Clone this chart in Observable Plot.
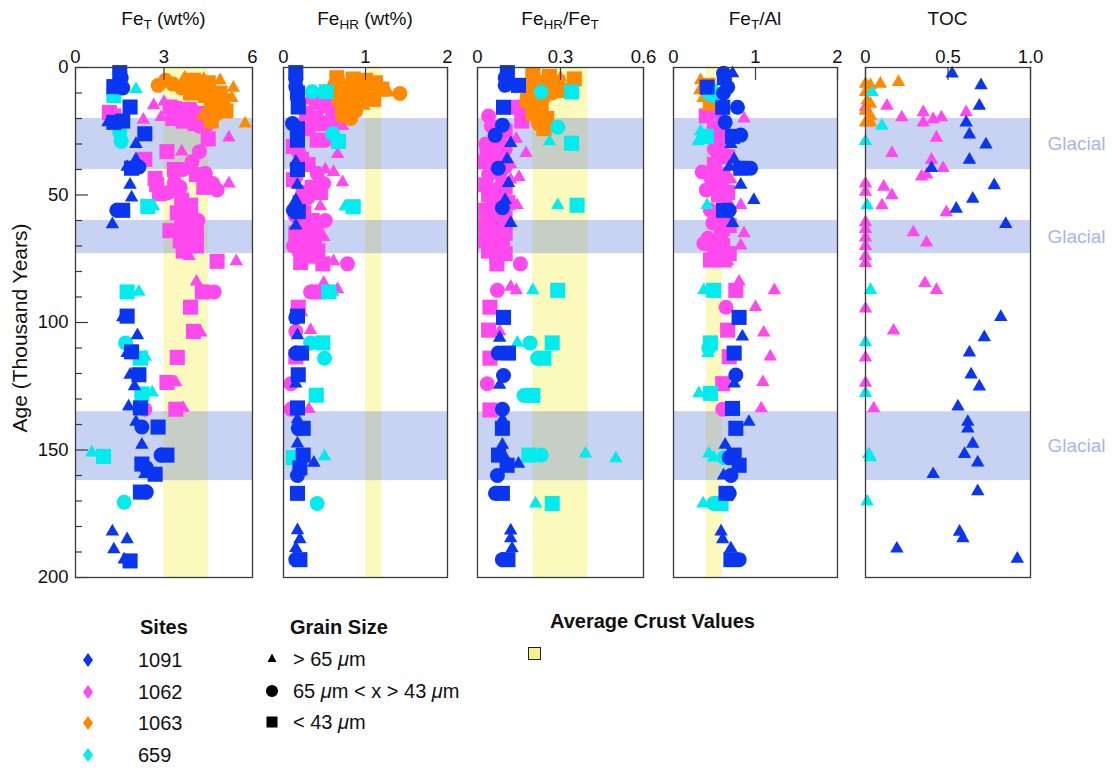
<!DOCTYPE html>
<html><head><meta charset="utf-8">
<script src="https://cdn.jsdelivr.net/npm/d3@7"></script>
<script src="https://cdn.jsdelivr.net/npm/@observablehq/plot@0.6"></script>
<style>
body{margin:0;background:#fff;font-family:"Liberation Sans",Arial,Helvetica,sans-serif;color:#111;}
#root{position:relative;width:1112px;height:770px;overflow:hidden;background:#fff;}
#root svg.plotsvg{position:absolute;top:0;}
.ptitle{position:absolute;top:9px;font-size:19px;line-height:20px;white-space:nowrap;transform:translateX(-50%);}
.ptitle sub{font-size:13.5px;vertical-align:-4px;line-height:0;}
.lg{position:absolute;font-size:20px;line-height:20px;white-space:nowrap;}
.lg.b{font-weight:bold;}
.lg i{font-style:italic;}
.sym{position:absolute;}
#ylab{position:absolute;left:20px;top:328px;font-size:21px;white-space:nowrap;transform:translate(-50%,-50%) rotate(-90deg);}
</style></head><body><div id="root"></div>
<script>
// ---------------- DATA ----------------
const sites = ["1091", "1062", "1063", "659"];
const siteColors = ["#0a36f2", "#ff48ee", "#ff8a00", "#00ecee"];
const grainLabels = ["> 65 <i>\u03bc</i>m", "65 <i>\u03bc</i>m < x > 43 <i>\u03bc</i>m", "< 43 <i>\u03bc</i>m"];
const panelTitles = ["Fe<sub>T</sub> (wt%)", "Fe<sub>HR</sub> (wt%)", "Fe<sub>HR</sub>/Fe<sub>T</sub>", "Fe<sub>T</sub>/Al", "TOC"];
const panelDomains = [[0, 6], [0, 2], [0, 0.6], [0, 2], [0, 1]];
const panelTicks = [[0, 3, 6], [0, 1, 2], [0, 0.3, 0.6], [0, 1, 2], [0, 0.5, 1]];
const panelTickLabels = [["0", "3", "6"], ["0", "1", "2"], ["0", "0.3", "0.6"], ["0", "1", "2"], ["0", "0.5", "1.0"]];
const crustRanges = [[3, 4.5], [1, 1.2], [0.2, 0.4], [0.4, 0.6], null];
const glacialBands = [[20, 40], [60, 73], [135, 162]];
const ageTicks = [0, 50, 100, 150, 200];
const ageMinorTicks = [0,10,20,30,40,50,60,70,80,90,100,110,120,130,140,150,160,170,180,190,200];

// rows: [age (ka), grain (t: >65, c: 65-43, s: <43 µm), value]
const feT_1091 = [[2,'s',1.5],[4,'c',1.55],[7.5,'s',1.3],[8,'c',1.6],[15.5,'s',1.85],[21.5,'t',1.1],[21.5,'s',1.3],[21,'s',1.6],[26,'s',2.35],[30,'t',2.05],[36,'t',2.05],[39,'c',2.15],[39,'t',1.75],[39.5,'s',1.9],[46,'t',1.85],[51,'t',1.9],[56,'c',1.4],[56,'s',1.6],[61.5,'t',1.25],[97.5,'s',1.75],[98,'t',1.6],[105,'t',2.1],[111.5,'s',1.9],[112,'t',1.75],[120.5,'t',1.85],[120.5,'s',2.15],[125,'t',2.0],[133,'t',1.8],[133.5,'s',2.2],[139,'t',2.05],[141,'c',2.25],[141,'s',2.8],[148,'t',2.25],[152,'c',2.9],[152,'s',3.1],[155.5,'s',2.25],[157,'c',2.4],[159.5,'t',2.35],[159.5,'s',2.7],[166.5,'c',2.4],[166.5,'s',2.2],[182,'t',1.25],[185,'t',1.75],[189,'t',1.3],[193,'t',1.65],[193.5,'s',1.85]];
const feT_1062 = [[14.8,'t',2.65],[13.5,'t',3.0],[17.6,'s',1.15],[19,'s',1.3],[15.5,'s',3.2],[16,'c',3.5],[16.5,'s',3.85],[17,'t',4.1],[18,'s',4.3],[19,'c',4.45],[20,'s',3.3],[21,'s',3.65],[19.5,'t',2.9],[22,'s',4.05],[22.5,'c',4.45],[23,'c',4.2],[20.5,'t',2.3],[28,'s',4.5],[27.5,'t',5.2],[33,'s',3.1],[33,'t',3.6],[33,'c',4.2],[36,'s',2.35],[37,'c',3.95],[40,'s',3.35],[40,'c',3.65],[41.5,'c',4.4],[42,'s',4.1],[43.5,'s',2.7],[45.5,'t',5.2],[45.5,'c',4.65],[46,'s',2.75],[47,'s',4.35],[48,'c',4.8],[49,'c',3.15],[49.5,'s',2.85],[47,'c',3.55],[45,'c',3.35],[52,'s',3.6],[54,'s',3.9],[56,'c',3.75],[57,'s',3.45],[59,'s',3.9],[60,'c',4.15],[61,'s',3.6],[63,'c',3.8],[64,'s',3.2],[65,'s',4.1],[66,'s',3.7],[67,'c',4.0],[68,'s',3.55],[69,'c',3.8],[70,'s',4.1],[71,'t',3.9],[72,'s',3.65],[74,'t',3.85],[76,'s',4.8],[76,'t',5.45],[84,'t',4.1],[88,'s',4.3],[88,'c',4.7],[94,'s',3.9],[103.5,'s',4.0],[104,'t',4.25],[113.7,'s',3.45],[123.5,'s',3.1],[123.5,'t',3.4],[134,'c',2.35],[134,'s',3.4],[133.5,'t',3.65]];
const feT_1063 = [[5,'c',3.05],[6.5,'c',3.3],[7,'c',2.8],[8,'c',3.6],[4,'t',3.7],[5,'s',4.0],[4.5,'t',4.35],[6,'s',4.5],[5,'t',4.9],[8,'s',4.2],[9,'t',4.7],[8,'t',5.35],[10,'s',4.9],[11,'s',4.4],[12,'c',4.7],[12,'t',5.3],[13,'s',5.0],[14,'s',4.6],[15,'c',4.9],[16,'t',4.5],[17,'s',5.1],[18,'c',4.8],[19,'t',4.3],[21,'s',4.6],[22,'t',5.75],[10,'s',3.9],[7,'s',3.8]];
const feT_659 = [[8.5,'t',2.05],[11,'s',1.3],[25.5,'c',1.5],[29,'c',1.55],[54.5,'s',2.45],[54.5,'t',2.65],[88,'s',1.75],[88,'t',2.15],[108,'c',1.7],[113.5,'t',2.37],[114,'s',2.2],[128,'s',2.25],[127.5,'t',2.6],[151,'t',0.55],[152.5,'s',0.95],[170.5,'c',1.65]];

const feHR_1091 = [[2,'s',0.15],[4.5,'c',0.15],[7.5,'c',0.15],[10,'s',0.17],[15.5,'s',0.18],[22,'c',0.11],[24,'s',0.17],[26,'c',0.17],[28.5,'s',0.17],[37,'t',0.15],[40,'s',0.17],[46,'t',0.17],[52,'t',0.15],[56,'c',0.12],[56.5,'s',0.18],[62,'t',0.15],[97.5,'s',0.17],[98,'c',0.15],[105,'t',0.17],[112,'c',0.15],[112,'s',0.22],[120.5,'s',0.18],[124,'t',0.15],[133.5,'s',0.17],[138,'t',0.17],[141.5,'c',0.18],[141.5,'s',0.24],[147.5,'t',0.17],[152,'s',0.24],[155,'t',0.37],[157,'s',0.2],[160,'c',0.17],[167,'s',0.17],[181.5,'t',0.17],[185,'t',0.2],[188.5,'t',0.15],[193,'c',0.15],[193,'s',0.2]];
const feHR_1062 = [[13,'t',0.3],[14,'s',0.4],[15,'s',0.5],[16,'s',0.62],[17,'c',0.7],[18,'s',0.28],[19,'t',0.55],[20,'s',0.4],[21,'c',0.6],[22,'s',0.48],[23,'t',0.72],[24,'s',0.3],[28.5,'s',0.41],[28.5,'c',0.51],[28,'t',0.67],[31,'s',0.12],[33,'c',0.18],[34,'t',0.66],[36,'s',0.22],[38,'s',0.3],[40,'t',0.51],[41.5,'c',0.41],[41,'t',0.61],[44,'s',0.12],[45,'t',0.72],[45.5,'c',0.49],[43,'c',0.15],[47,'s',0.35],[49,'s',0.24],[49,'s',0.45],[51,'c',0.3],[53,'s',0.2],[54.5,'t',0.45],[57,'s',0.25],[58,'c',0.14],[60,'c',0.51],[60,'s',0.35],[62,'s',0.22],[64,'s',0.4],[65,'s',0.15],[66.5,'t',0.49],[67,'s',0.28],[69,'c',0.38],[70,'c',0.12],[71,'s',0.2],[72,'s',0.42],[73,'t',0.3],[74,'s',0.3],[76.5,'s',0.21],[77,'s',0.48],[76,'t',0.61],[77,'c',0.78],[84.5,'t',0.49],[87,'t',0.66],[88,'c',0.33],[88,'s',0.42],[94,'s',0.18],[96,'t',0.22],[103.5,'c',0.15],[103,'t',0.33],[113.5,'s',0.15],[124,'c',0.09],[134,'c',0.09],[134,'t',0.31]];
const feHR_1063 = [[4,'s',0.65],[4.5,'s',0.85],[5,'s',1.0],[5.5,'t',0.72],[6,'s',1.12],[7,'c',0.62],[7.5,'s',0.92],[8,'t',1.05],[8.5,'s',1.2],[9.8,'t',1.28],[10.2,'c',1.42],[10,'s',0.78],[11,'c',0.95],[12,'s',0.68],[12.5,'s',1.1],[13.5,'c',0.85],[15,'t',0.98],[16,'s',0.72],[17,'c',0.88],[18,'s',0.75],[19,'c',0.72],[20,'c',0.82]];
const feHR_659 = [[9.5,'c',0.35],[9.5,'s',0.52],[26,'c',0.6],[29,'s',0.67],[54.6,'s',0.85],[54.6,'t',0.75],[88,'s',0.55],[88,'t',0.6],[108,'c',0.33],[108,'s',0.48],[114,'c',0.5],[128.5,'s',0.4],[152.5,'t',0.5],[153,'s',0.12],[171,'c',0.41]];

const ratio_1091 = [[2,'s',0.108],[4,'c',0.1],[7,'c',0.1],[7,'s',0.148],[15.6,'s',0.094],[22.6,'c',0.09],[26.6,'c',0.064],[29.7,'t',0.12],[36,'t',0.107],[39.5,'c',0.075],[45.3,'t',0.112],[52,'t',0.1],[55,'c',0.09],[61,'t',0.12],[98,'s',0.094],[106,'t',0.08],[112,'c',0.075],[112,'s',0.112],[120.8,'c',0.094],[124.5,'t',0.08],[134,'c',0.09],[138,'t',0.09],[141.5,'s',0.09],[148,'t',0.09],[152,'s',0.076],[153,'t',0.1],[156,'s',0.107],[155.4,'t',0.148],[160,'c',0.072],[167,'c',0.065],[167,'s',0.09],[181.6,'t',0.12],[184.7,'t',0.12],[188.6,'t',0.125],[193,'c',0.09],[193,'s',0.11]];
const ratio_1062 = [[15.6,'s',0.14],[15.6,'s',0.19],[18,'t',0.23],[20.6,'t',0.23],[19,'c',0.04],[21,'s',0.16],[23,'c',0.05],[25,'s',0.1],[28,'t',0.14],[30,'c',0.03],[31,'s',0.08],[32,'c',0.1],[33.6,'s',0.035],[33.6,'t',0.175],[35,'c',0.06],[35.5,'s',0.09],[37,'s',0.03],[38,'t',0.12],[39,'c',0.1],[40,'s',0.05],[41,'s',0.08],[42,'c',0.04],[43,'t',0.15],[44,'t',0.12],[45,'c',0.09],[46,'s',0.03],[47,'s',0.1],[48,'c',0.06],[50,'s',0.04],[51,'c',0.08],[52,'t',0.1],[53,'s',0.11],[54,'c',0.05],[54,'t',0.143],[56,'s',0.03],[57,'c',0.09],[58,'s',0.06],[59,'s',0.1],[60,'c',0.04],[62,'s',0.03],[63,'c',0.08],[64,'s',0.06],[65,'s',0.1],[66,'c',0.04],[67,'s',0.09],[68,'s',0.03],[70,'s',0.06],[71,'c',0.08],[72,'s',0.04],[73,'s',0.1],[74,'s',0.07],[77,'c',0.155],[77,'s',0.07],[87.4,'c',0.072],[86,'t',0.12],[87.4,'t',0.14],[94,'s',0.045],[103,'s',0.04],[103.5,'t',0.08],[114,'s',0.045],[124,'c',0.035],[134.3,'s',0.045]];
const ratio_1063 = [[3,'s',0.2],[3.5,'s',0.26],[4,'t',0.3],[4.5,'s',0.35],[5.5,'c',0.22],[6,'s',0.29],[7,'t',0.25],[8,'s',0.19],[9,'s',0.31],[10,'c',0.27],[11,'s',0.21],[12,'t',0.24],[13,'s',0.18],[14,'c',0.2],[15,'s',0.23],[17,'t',0.21],[18,'s',0.2],[20,'s',0.25],[22,'c',0.22],[24,'s',0.24]];
const ratio_659 = [[9.6,'c',0.23],[9.6,'s',0.34],[23.4,'c',0.29],[29,'t',0.26],[29.7,'s',0.34],[54,'t',0.29],[54,'s',0.36],[87.4,'t',0.2],[87.4,'s',0.29],[108,'t',0.144],[108,'c',0.19],[108,'s',0.27],[114,'c',0.217],[114,'s',0.24],[128.6,'c',0.168],[128.6,'s',0.2],[152,'s',0.186],[152,'c',0.23],[151.4,'t',0.39],[153.3,'t',0.5],[171,'t',0.21],[171,'s',0.27]];

const feAl_1091 = [[2.3,'c',0.61],[2.3,'t',0.72],[4,'s',0.62],[7.7,'c',0.66],[7.7,'s',0.41],[10,'c',0.61],[15.6,'s',0.6],[15.6,'c',0.78],[21.5,'c',0.63],[26.5,'c',0.82],[27,'s',0.72],[30,'t',0.7],[36,'t',0.74],[39.5,'c',0.94],[39.5,'s',0.82],[39,'t',0.68],[46,'t',0.82],[52,'t',0.98],[56,'s',0.61],[56,'c',0.68],[61,'t',0.72],[98,'s',0.8],[105.5,'t',0.84],[112,'s',0.74],[120.6,'c',0.76],[124,'t',0.74],[133.7,'s',0.72],[139,'t',0.92],[141.5,'s',0.76],[148,'t',0.63],[152,'s',0.74],[153,'c',0.68],[156,'s',0.8],[160,'t',0.61],[160,'c',0.7],[167,'c',0.68],[167,'s',0.64],[182,'t',0.58],[185,'t',0.6],[188.6,'t',0.7],[193,'c',0.8],[193,'s',0.7]];
const feAl_1062 = [[15,'c',0.45],[17,'s',0.55],[20,'t',0.86],[19,'s',0.4],[22,'s',0.6],[24,'s',0.5],[26,'c',0.55],[28,'s',0.62],[30,'s',0.58],[32,'c',0.5],[33,'s',0.55],[35,'s',0.66],[36,'t',0.62],[38,'s',0.5],[41,'c',0.35],[42,'s',0.6],[43,'c',0.45],[44,'t',0.7],[45,'c',0.5],[46,'s',0.58],[48,'c',0.4],[49,'s',0.66],[50,'s',0.55],[52,'t',0.66],[54,'t',0.82],[56,'c',0.45],[57,'s',0.62],[59,'s',0.55],[61,'c',0.48],[62,'s',0.68],[63,'s',0.6],[65,'t',0.86],[66,'s',0.58],[67,'c',0.42],[69,'c',0.37],[69.8,'t',0.82],[70,'s',0.6],[72,'s',0.5],[73,'s',0.68],[75.5,'s',0.45],[75.5,'s',0.62],[76,'t',0.66],[84,'t',0.8],[87.4,'s',0.76],[87.4,'t',1.23],[94,'c',0.64],[94,'t',1.0],[103,'s',0.66],[104,'t',1.1],[113.4,'t',1.18],[113.4,'s',0.68],[124,'s',0.6],[123.4,'t',1.09],[133.7,'t',1.07],[134,'c',0.6]];
const feAl_1063 = [[5,'t',0.33],[7,'s',0.42],[9,'t',0.32],[12,'t',0.36],[14,'s',0.45]];
const feAl_659 = [[9.6,'s',0.45],[11,'c',0.48],[25,'t',0.33],[29,'t',0.3],[27,'s',0.4],[54,'t',0.41],[87.4,'s',0.49],[87.4,'t',0.37],[108,'s',0.45],[110,'c',0.43],[112,'t',0.42],[127.8,'t',0.31],[127.8,'s',0.45],[151.4,'t',0.43],[153,'t',0.49],[153,'c',0.62],[171,'t',0.36],[171,'c',0.49],[171,'s',0.58]];

// TOC rows: [age, value] (all > 65 µm)
const toc_1091 = [[2.4,0.525],[7,0.7],[15,0.69],[21.6,0.61],[26.3,0.63],[30.2,0.73],[36.2,0.63],[39.5,0.4],[46.2,0.78],[51.5,0.65],[55.4,0.55],[61.4,0.85],[97.9,0.82],[105.8,0.72],[111.8,0.63],[120.4,0.64],[125.1,0.69],[133,0.56],[139,0.62],[141.6,0.62],[147.6,0.65],[151.6,0.6],[154.9,0.68],[159.5,0.41],[166.2,0.68],[182.1,0.57],[184.7,0.59],[188.7,0.19],[192.7,0.92]];
const toc_1062 = [[15.6,0],[15,0.13],[19.6,0.22],[17.6,0.35],[21.6,0.35],[20.3,0.41],[19.6,0.46],[17.6,0.61],[27.6,0.43],[33.6,0.16],[36.2,0.4],[39.5,0.47],[42.8,0.34],[42,0.37],[45.5,0],[48.8,0],[46.8,0.11],[50.1,0.16],[54.1,0.1],[56.8,0.49],[60.7,0],[63.4,0],[64.7,0.29],[68.7,0.37],[66.7,0],[70,0],[74,0],[76.7,0],[84.6,0.36],[87.3,0.43],[94.6,0],[103.2,0.17],[113.8,0],[123.7,0],[133.7,0.05]];
const toc_1063 = [[5.7,0.2],[6.4,0.0],[7,0.03],[6.4,0.09],[9.7,0.0],[13,0.01],[14.3,0.03],[17,0.0],[19,0.03],[21.6,0.0],[21.6,0.03]];
const toc_659 = [[9.7,0.04],[22.9,0.1],[28.9,0.0],[54.1,0.01],[87.3,0.03],[107.8,0.0],[127.7,0.0],[151.6,0.02],[152.9,0.03],[170.2,0.01]];

// ---------------- BUILD ----------------
const toRows = a => a.map(d => [d[0], 't', d[1]]);
const panelData = [
  {"1091": feT_1091, "1062": feT_1062, "1063": feT_1063, "659": feT_659},
  {"1091": feHR_1091, "1062": feHR_1062, "1063": feHR_1063, "659": feHR_659},
  {"1091": ratio_1091, "1062": ratio_1062, "1063": ratio_1063, "659": ratio_659},
  {"1091": feAl_1091, "1062": feAl_1062, "1063": feAl_1063, "659": feAl_659},
  {"1091": toRows(toc_1091), "1062": toRows(toc_1062), "1063": toRows(toc_1063), "659": toRows(toc_659)}
];
const colorOf = Object.fromEntries(sites.map((s, i) => [s, siteColors[i]]));
const drawOrder = ["1062", "1063", "659", "1091"];
const grainSymbol = {t: "triangle", c: "circle", s: "square"};
const grainR = {t: 5, c: 7.5, s: 8.5};

// layout (pixels)
const frames = [{left: 75, width: 177}, {left: 283, width: 164}, {left: 477, width: 166}, {left: 673, width: 164}, {left: 865, width: 165}];
const H = 588, MT = 67, MB = 11;
const root = document.getElementById("root");

frames.forEach((f, i) => {
  const ml = i === 0 ? 75 : 14;
  const mr = i === 4 ? 82 : 14;
  const dom = panelDomains[i];
  const pxPerUnitX = f.width / (dom[1] - dom[0]);
  const pxPerUnitY = (H - MT - MB) / 200;
  const marks = [];
  if (crustRanges[i]) {
    marks.push(Plot.rect([crustRanges[i]], {x1: d => d[0], x2: d => d[1], y1: 0, y2: 200, fill: "#fcf9bd"}));
  }
  marks.push(Plot.rect(glacialBands, {y1: d => d[0], y2: d => d[1], fill: "#4a6ad8", fillOpacity: 0.3}));
  for (const s of drawOrder) {
    const rows = panelData[i][s];
    for (const g of ["s", "c", "t"]) {
      marks.push(Plot.dot(rows.filter(r => r[1] === g), {x: r => r[2], y: r => r[0], symbol: grainSymbol[g], r: grainR[g], fill: colorOf[s], stroke: "none"}));
    }
  }
  marks.push(Plot.frame({stroke: "#3a3a3a", strokeWidth: 1.3}));
  marks.push(Plot.ruleX(panelTicks[i], {x: d => d, y1: 0, y2: 13 / pxPerUnitY, stroke: "#3a3a3a", strokeWidth: 1.2}));
  marks.push(Plot.axisX(panelTicks[i], {anchor: "top", tickSize: 0, tickPadding: 5, tickFormat: d => panelTickLabels[i][panelTicks[i].indexOf(d)], fontSize: 18.5, fill: "#111"}));
  if (i === 0) {
    marks.push(Plot.ruleY(ageMinorTicks, {y: d => d, x1: 0, x2: d => (d % 50 === 0 ? 13 : 7) / pxPerUnitX, stroke: "#3a3a3a", strokeWidth: 1.2}));
    marks.push(Plot.axisY(ageTicks, {anchor: "left", tickSize: 0, tickPadding: 7, fontSize: 18.5, fill: "#111", label: null}));
  }
  if (i === 4) {
    marks.push(Plot.text(glacialBands, {y: d => (d[0] + d[1]) / 2, frameAnchor: "right", dx: 17, textAnchor: "start", text: () => "Glacial", fill: "#a9b5ea", fontSize: 19}));
  }
  const svg = Plot.plot({
    width: ml + f.width + mr, height: H,
    marginLeft: ml, marginRight: mr, marginTop: MT, marginBottom: MB,
    x: {domain: dom, label: null, axis: null},
    y: {domain: [0, 200], reverse: true, label: null, axis: null},
    style: {fontFamily: '"Liberation Sans", Arial, Helvetica, sans-serif', fontSize: "18px", background: "transparent", overflow: "visible"},
    marks
  });
  svg.classList.add("plotsvg");
  svg.style.left = (f.left - ml) + "px";
  root.appendChild(svg);
  const t = document.createElement("div");
  t.className = "ptitle";
  t.innerHTML = panelTitles[i];
  t.style.left = (f.left + f.width / 2) + "px";
  root.appendChild(t);
});

const yl = document.createElement("div");
yl.id = "ylab"; yl.textContent = "Age (Thousand Years)";
root.appendChild(yl);

// ---------------- LEGEND ----------------
function addText(html, x, cy, bold) {
  const d = document.createElement("div");
  d.className = "lg" + (bold ? " b" : "");
  d.innerHTML = html;
  d.style.left = x + "px"; d.style.top = (cy - 10) + "px";
  root.appendChild(d);
}
function addSym(kind, cx, cy, color) {
  const ns = "http://www.w3.org/2000/svg";
  const s = document.createElementNS(ns, "svg");
  s.setAttribute("width", 20); s.setAttribute("height", 20);
  s.setAttribute("class", "sym");
  s.style.left = (cx - 10) + "px"; s.style.top = (cy - 10) + "px";
  const p = document.createElementNS(ns, "path");
  const shapes = {
    diamond: "M10,3L15,10L10,17L5,10Z",
    triangle: "M10,4.5L14.5,13L5.5,13Z",
    circle: "M10,4A6,6 0 1,1 9.99,4Z",
    square: "M4.5,4.5H15.5V15.5H4.5Z"
  };
  p.setAttribute("d", shapes[kind]);
  p.setAttribute("fill", color);
  s.appendChild(p);
  root.appendChild(s);
}
addText("Sites", 140, 627, true);
sites.forEach((s, i) => { const cy = 660 + i * 31.7; addSym("diamond", 88, cy, siteColors[i]); addText(s, 138, cy, false); });
addText("Grain Size", 290, 627, true);
["triangle", "circle", "square"].forEach((k, i) => { const cy = 659 + i * 31.7; addSym(k, 272, cy, "#000"); addText(grainLabels[i], 293, cy, false); });
addText("Average Crust Values", 550, 621, true);
const box = document.createElement("div");
box.style.cssText = "position:absolute;left:528px;top:647px;width:11px;height:11px;border:1.6px solid #222;background:#f7f08c;";
root.appendChild(box);
</script></body></html>
